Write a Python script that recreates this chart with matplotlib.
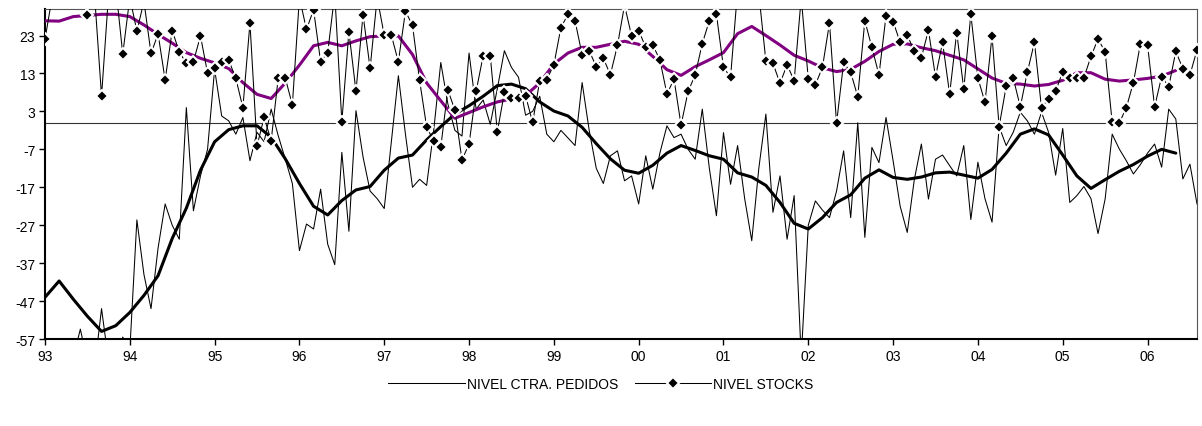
import numpy as np
import matplotlib
matplotlib.use("Agg")
import matplotlib.pyplot as plt

# ---------------- data (monthly, Jan 1993 .. Aug 2006) ----------------
year_labels = ["93", "94", "95", "96", "97", "98", "99", "00", "01", "02", "03", "04", "05", "06"]
y_ticks = [-57, -47, -37, -27, -17, -7, 3, 13, 23]

pedidos = [
    -62, -66, -63, -65, -62, -54.4, -63, -65, -49, -63, -62, -56.5,        # 1993
    -60, -25.6, -40, -49, -33, -21.4, -27, -30.7, 4.0, -23.2, -14, -7,     # 1994
    14.1, 1.8, 0.5, -3, 1.4, -10, -2.5, -5, 3.6, -3.4, -9.6, -16,          # 1995
    -33.7, -26.7, -28, -17.5, -32, -37.4, -7.8, -28.6, 3.2, -9, -18, -20,  # 1996
    -22.6, -5, 12.4, -3, -17, -14.9, -16.5, -2, 15.9, 5, -2, -3.5,         # 1997
    18.4, 3.6, 6, -0.4, 9, 19, 14.6, 12, 2, 3, 7, -3,                      # 1998
    -5, -2, -4, -6, 10.6, -2, -12, -16, -8.7, -7.4, -15.3, -14,            # 1999
    -21.4, -8.7, -17.5, -8, -0.8, -3.9, -3, -7, -9.6, 3.6, -12, -24.5,     # 2000
    -2.6, -16.2, -6, -20, -31.1, -12, 2.3, -23.6, -14, -30.7, -19.2, -62,  # 2001
    -27, -20.6, -23, -25, -18, -7.4, -25, 0, -30.2, -6.5, -10.5, 1.4,      # 2002
    -10, -22, -28.9, -15, -5.6, -20.1, -9.6, -8.5, -11.3, -14, -6, -25.5,  # 2003
    -10.4, -20, -26.2, -1, -6, -2.5, 2.8, 0.5, -3, 2.8, -2.5, -13.8,       # 2004
    -1.5, -21, -19.2, -16.8, -20, -29.2, -20.1, -3, -6.9, -10, -13.5, -11, # 2005
    -8, -5.6, -11.7, 3.6, 1, -14.8, -10.9, -21.4,                          # 2006
]

stocks = [
    22, 33, 35, 37, 35, 33, 28.5, 34, 7, 34, 36, 18.1,                     # 1993
    33, 24.2, 32, 18.3, 23.4, 11.3, 24.3, 18.7, 15.7, 16.1, 22.9, 13.1,    # 1994
    14.4, 15.9, 16.5, 11.7, 4.0, 26.3, -6.1, 1.4, -4.7, 11.8, 11.8, 4.7,   # 1995
    33, 24.6, 29.8, 16.1, 18.5, 34, 0.3, 24, 8.3, 28.5, 14.4, 33,          # 1996
    23.1, 23.1, 16.1, 29.4, 25.7, 11.2, -1.1, -4.8, -6.4, 8.7, 3.3, -9.8,  # 1997
    -5.6, 8.3, 17.7, 17.7, -2.4, 8.0, 6.5, 6.5, 7.1, 0.1, 11.1, 11.4,      # 1998
    15.3, 25.1, 28.6, 26.9, 17.9, 19, 14.8, 17, 12.7, 20.4, 31, 22.9,      # 1999
    24.3, 19.9, 20.5, 16.6, 7.6, 11.5, -0.6, 8.3, 12.6, 20.9, 26.9, 28.6,  # 2000
    14.6, 12, 35, 38, 37, 34, 16.3, 15.7, 10.4, 15.3, 11.1, 33,            # 2001
    11.5, 10.0, 14.6, 26.3, -0.1, 15.9, 13.3, 6.9, 26.9, 19.9, 12.6, 28.2, # 2002
    26.7, 21.2, 23.2, 18.8, 17.2, 24.4, 12.1, 21.2, 7.6, 23.8, 8.9, 28.6,  # 2003
    11.8, 5.4, 22.9, -1, 9.6, 11.8, 4.2, 13.4, 21.2, 3.9, 6.4, 8.4,        # 2004
    13.4, 11.7, 11.7, 11.9, 17.5, 22.1, 18.7, 0.1, -0.1, 4.0, 10.6, 20.9,  # 2005
    20.6, 4.2, 12.2, 9.5, 18.8, 14.3, 12.6, 19.2,                          # 2006
]

# smoothed trends, read every two months (month index from Jan 1993)
trend_months = list(range(0, 161, 2))
trend_pedidos = [
    -46, -41.7, -46.5, -51, -55, -53.5, -50, -45.5, -40.3, -30.5,
    -22.5, -12.5, -5, -1.8, -0.8, -0.8, -3.8, -9.5, -16, -22,
    -24.3, -20.5, -17.7, -16.8, -12.5, -9.3, -8.5, -4.5, -1, 2.3,
    4.5, 7, 9.8, 10.2, 9, 5.5, 3.1, 1.8, -1.2, -5.5,
    -9.5, -12.5, -13.3, -11.2, -8, -6, -7.3, -8.7, -9.6, -13.2,
    -14.3, -16.5, -21, -26.5, -28, -25, -21, -19, -14.6, -12.4,
    -14.4, -14.9, -14.3, -13.2, -13, -13.8, -14.6, -12.3, -8, -3,
    -1.6, -3.2, -8.5, -14, -17.3, -15, -12.8, -11, -8.8, -7,
    -8,
]
trend_stocks = [
    26.9, 26.8, 28, 28.3, 28.6, 28.6, 28, 25.8, 23.3, 21,
    18.5, 17, 15.8, 14.3, 10.6, 7.5, 6.4, 10.5, 15.2, 20.3,
    21.2, 20.3, 21.6, 22.7, 22.9, 22.9, 18, 10.5, 5.8, 1.2,
    2.7, 4.2, 5.5, 6.3, 7.2, 10.5, 15.5, 18.4, 19.9, 19.9,
    20.7, 21.5, 20.7, 17.5, 14, 12.5, 14.8, 16.6, 18.5, 23.5,
    25.4, 23, 20.5, 17.8, 16.3, 14.5, 13.5, 14.1, 16.2, 18.8,
    20.7, 20.8, 19.8, 19, 17.8, 16.6, 14.2, 11.8, 10.4, 10.2,
    9.7, 10.1, 11.2, 13.2, 13.2, 11.5, 11, 11.3, 11.7, 12.3,
    13.8,
]

months = np.arange(len(pedidos))

# ---------------- figure ----------------
plt.rcParams["font.family"] = ["Liberation Sans", "DejaVu Sans"]
fig = plt.figure(figsize=(12.02, 4.27), dpi=100)
ax = fig.add_axes([45 / 1202, 1 - 340 / 427, (1197 - 45) / 1202, 330 / 427])

ax.axhline(0, color="#333333", lw=0.8, zorder=1)

l_ped, = ax.plot(months, pedidos, color="black", lw=0.75, zorder=2,
                 label="NIVEL CTRA. PEDIDOS")
ax.plot(trend_months, trend_pedidos, color="black", lw=2.2, zorder=3,
        solid_capstyle="round", solid_joinstyle="round")
ax.plot(trend_months, trend_stocks, color="#800080", lw=2.2, zorder=3,
        solid_capstyle="round", solid_joinstyle="round")
l_stk, = ax.plot(months, stocks, color="black", lw=0.75, marker="D",
                 markersize=6.3, markerfacecolor="black",
                 markeredgecolor="white", markeredgewidth=1.5, zorder=4,
                 label="NIVEL STOCKS")

ax.set_xlim(0, len(pedidos) - 1)
ax.set_ylim(-57, 30)
ax.set_yticks(y_ticks)
ax.set_yticklabels([str(v) for v in y_ticks])
ax.set_xticks(np.arange(0, 12 * len(year_labels), 12))
ax.set_xticklabels(year_labels)
ax.tick_params(axis="both", direction="out", length=4, width=1.0,
               labelsize=10, colors="black", pad=3)

for side in ("left", "bottom"):
    ax.spines[side].set_color("black")
    ax.spines[side].set_linewidth(1.5)
for side in ("top", "right"):
    ax.spines[side].set_color("#555555")
    ax.spines[side].set_linewidth(0.8)

fig.legend(handles=[l_ped, l_stk], loc="center", bbox_to_anchor=(0.5, 1 - 385 / 427),
           ncol=2, frameon=False, fontsize=10, handlelength=5.5,
           columnspacing=1.2, handletextpad=0.15)

fig.savefig("out.png", dpi=100)
